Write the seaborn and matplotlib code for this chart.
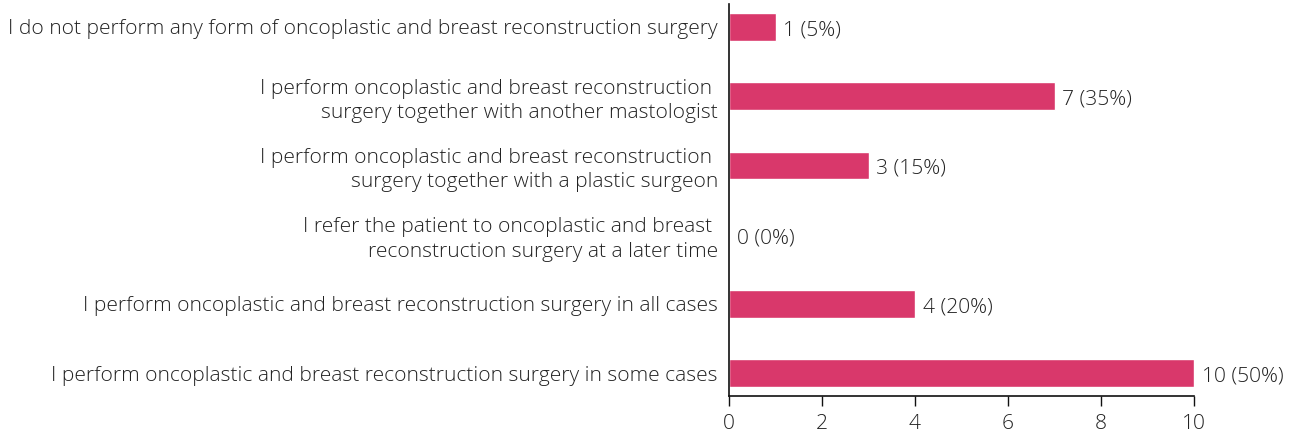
import matplotlib
matplotlib.use("Agg")
import matplotlib.pyplot as plt
import seaborn as sns
import pandas as pd

categories = [
    "I do not perform any form of oncoplastic and breast reconstruction surgery",
    "I perform oncoplastic and breast reconstruction \nsurgery together with another mastologist",
    "I perform oncoplastic and breast reconstruction \nsurgery together with a plastic surgeon",
    "I refer the patient to oncoplastic and breast \nreconstruction surgery at a later time",
    "I perform oncoplastic and breast reconstruction surgery in all cases",
    "I perform oncoplastic and breast reconstruction surgery in some cases",
]
counts = [1, 7, 3, 0, 4, 10]
percents = [5, 35, 15, 0, 20, 50]
xticks = [0, 2, 4, 6, 8, 10]

sns.set_style("white")
plt.rcParams['font.family'] = ['Open Sans', 'DejaVu Sans']

df = pd.DataFrame({"category": categories, "count": counts})

FS = 15.1
fig = plt.figure(figsize=(12.96, 4.33), dpi=100)
ax = fig.add_axes([729/1296, 1-396/433, (1194-729)/1296, 392/433])
sns.barplot(data=df, x="count", y="category", color="#d9386b", saturation=1,
            width=0.4, ax=ax, orient="h")

for i, (c, p) in enumerate(zip(counts, percents)):
    ax.text(c + 0.17, i + 0.05, f"{c} ({p}%)", va="center", ha="left", fontsize=FS,
            color="#222222", fontweight="light")

ax.set_xlim(0, 10)
ax.set_ylim(5.33, -0.33)
ax.set_xticks(xticks)
ax.set_xticklabels([str(t) for t in xticks], fontsize=FS, color="#222222", fontweight="light")
ax.set_yticks(range(len(categories)))
ax.set_yticklabels(categories, fontsize=FS, color="#222222", fontweight="light",
                   linespacing=1.3)
ax.set_xlabel("")
ax.set_ylabel("")
for s in ["top", "right"]:
    ax.spines[s].set_visible(False)
for s in ["left", "bottom"]:
    ax.spines[s].set_color("#111111")
    ax.spines[s].set_linewidth(1.2)
ax.tick_params(axis="x", direction="out", length=7, width=1, color="#111111", pad=6, bottom=True)
ax.tick_params(axis="y", length=0, pad=8)
ax.spines["bottom"].set_bounds(0, 10)

fig.savefig("out.png", dpi=100)
